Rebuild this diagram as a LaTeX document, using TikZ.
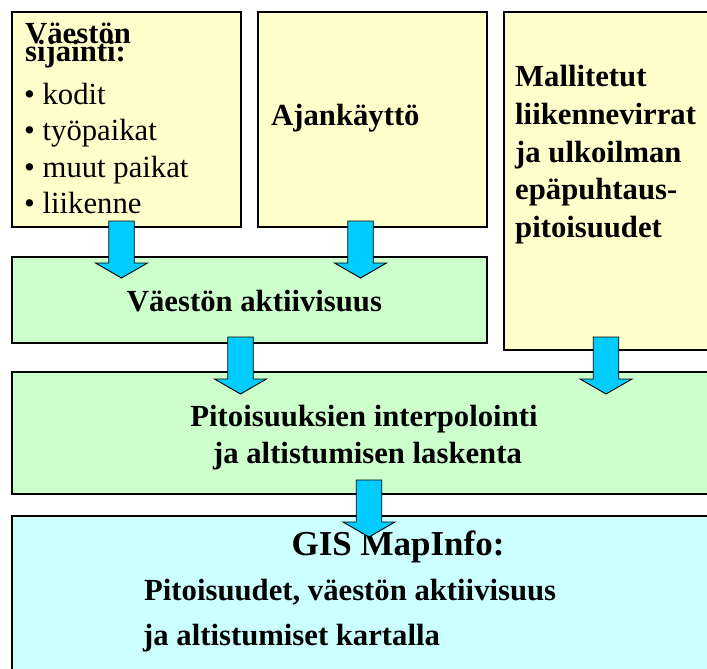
\documentclass[tikz,border=0pt]{standalone}
\usepackage{fontspec}
\setmainfont{Liberation Serif}
\definecolor{boxyellow}{HTML}{FFFFCC}
\definecolor{boxgreen}{HTML}{CCFFCC}
\definecolor{boxcyan}{HTML}{CCFFFF}
\definecolor{arrowcyan}{HTML}{00CCFF}
\tikzset{
  panel/.style={draw=black, line width=1.3pt},
  txt/.style={inner sep=0pt, font=\fontsize{30.7}{36}\selectfont},
  btxt/.style={inner sep=0pt, font=\fontsize{30.7}{36}\selectfont\bfseries},
  bigtxt/.style={inner sep=0pt, font=\fontsize{35}{40}\selectfont\bfseries},
  blockarrow/.pic={
    \filldraw[fill=arrowcyan, draw=black, line width=0.9pt, line join=miter]
      (-12.75,-57) -- (12.75,-57) -- (12.75,-15) -- (26,-15) -- (0,0)
      -- (-26,-15) -- (-12.75,-15) -- cycle;
  }
}
\begin{document}
\begin{tikzpicture}[x=1pt, y=-1pt]
\useasboundingbox (0,0) rectangle (707,669);
\clip (0,0) rectangle (707,669);
% boxes
\filldraw[panel, fill=boxyellow] (12,12) rectangle (241,227);
\filldraw[panel, fill=boxyellow] (258,12) rectangle (487,227);
\filldraw[panel, fill=boxyellow] (504,12) rectangle (730,350);
\filldraw[panel, fill=boxgreen] (12,257) rectangle (487,343);
\filldraw[panel, fill=boxgreen] (12,372) rectangle (730,494);
\filldraw[panel, fill=boxcyan] (12,516) rectangle (730,690);
% box 1 text
\node[btxt, anchor=base west] (t1a) at (25,44) {Väestön};
\node[btxt, anchor=base west] (t1b) at (25,62) {sijainti:};
\node[txt, anchor=base west] (t1c) at (24,104) {• kodit};
\node[txt, anchor=base west] (t1d) at (24,140.5) {• työpaikat};
\node[txt, anchor=base west] (t1e) at (24,177) {• muut paikat};
\node[txt, anchor=base west] (t1f) at (24,213.5) {• liikenne};
% box 2
\node[btxt, anchor=base west] (t2) at (271,125) {Ajankäyttö};
% box 3
\node[btxt, anchor=base west] (t3a) at (515,87) {Mallitetut};
\node[btxt, anchor=base west] (t3b) at (515,124.5) {liikennevirrat};
\node[btxt, anchor=base west] (t3c) at (515,162) {ja ulkoilman};
\node[btxt, anchor=base west] (t3d) at (515,199.5) {epäpuhtaus-};
\node[btxt, anchor=base west] (t3e) at (515,237) {pitoisuudet};
% box 4
\node[btxt, anchor=base] (t4) at (254.5,311) {Väestön aktiivisuus};
% box 5
\node[btxt, anchor=base] (t5a) at (364,426) {Pitoisuuksien interpolointi};
\node[btxt, anchor=base] (t5b) at (367.5,463) {ja altistumisen laskenta};
% box 6
\node[bigtxt, anchor=base] (t6a) at (398,555) {GIS MapInfo:};
\node[btxt, anchor=base west] (t6b) at (144,600) {Pitoisuudet, väestön aktiivisuus};
\node[btxt, anchor=base west] (t6c) at (143,645) {ja altistumiset kartalla};
% arrows
\pic at (121.5,278) {blockarrow};
\pic at (360.5,278) {blockarrow};
\pic at (240.5,394) {blockarrow};
\pic at (606,394) {blockarrow};
\pic at (369,537) {blockarrow};
\end{tikzpicture}
\end{document}
